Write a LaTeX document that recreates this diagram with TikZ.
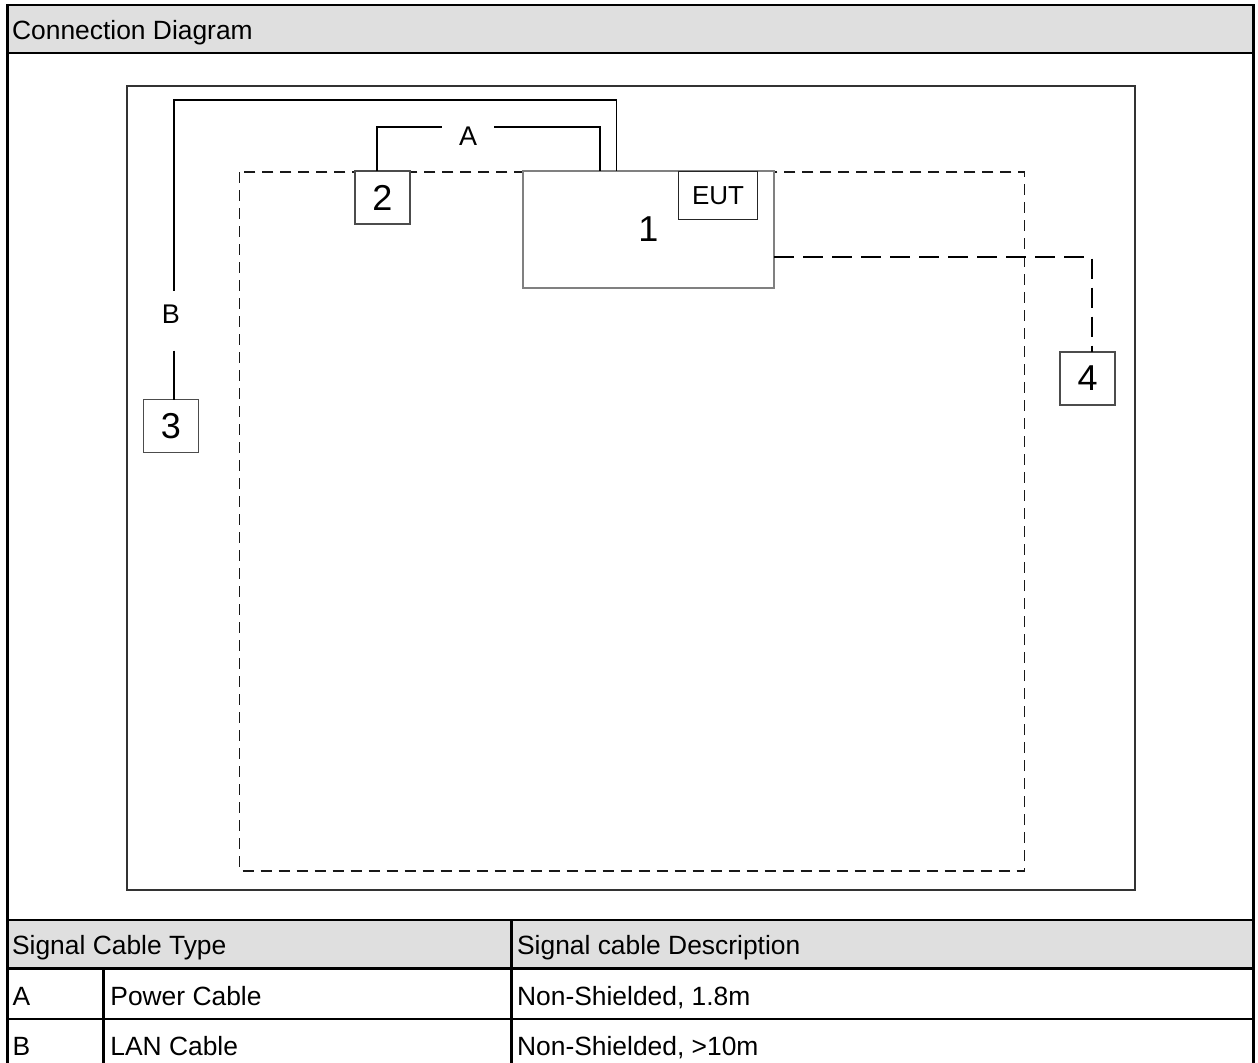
\documentclass[tikz,border=0pt]{standalone}
\usepackage{fontspec}
\setmainfont{Liberation Sans}
\definecolor{hdr}{HTML}{DFDFDF}
\begin{document}
\begin{tikzpicture}[x=0.5pt,y=-0.5pt,
  frameln/.style={line width=1.3pt,draw=black},
  diagln/.style={line width=1pt,draw=black!80},
  cable/.style={line width=0.8pt,draw=black},
  devbox/.style={draw=black!70,line width=0.75pt,fill=white,inner sep=0pt,outer sep=0pt,minimum width=27.5pt,minimum height=26.5pt,font=\fontsize{18}{20}\selectfont},
  eutbox/.style={draw=black!50,line width=1.1pt,fill=white,inner sep=0pt,outer sep=0pt,minimum width=125.7pt,minimum height=58.8pt,font=\fontsize{18}{20}\selectfont},
  tagbox/.style={draw=black!85,line width=0.75pt,fill=white,inner sep=0pt,outer sep=0pt,minimum width=39.7pt,minimum height=23.8pt,font=\fontsize{13}{15}\selectfont},
  lbl/.style={inner sep=0pt,outer sep=0pt,font=\fontsize{13.5}{15}\selectfont},
  txt/.style={inner sep=0pt,anchor=base west,font=\fontsize{13.2}{15}\selectfont},
  dashrect/.style={line width=0.8pt,draw=black!90,dash pattern=on 5.5pt off 3.5pt},
  dcable/.style={line width=0.9pt,draw=black,dash pattern=on 10pt off 4.5pt}]

\useasboundingbox (0,0) rectangle (1258,1063);

% header band and table header band
\fill[hdr] (7.3,5) rectangle (1253.5,53);
\fill[hdr] (7.3,920) rectangle (1253.5,968.3);

% frame and table lines
\draw[frameln] (7.3,1080) -- (7.3,5) -- (1253.5,5) -- (1253.5,1080);
\draw[frameln] (7.3,53) -- (1253.5,53);
\draw[frameln] (7.3,920) -- (1253.5,920);
\draw[frameln] (7.3,968.3) -- (1253.5,968.3);
\draw[frameln] (7.3,1019) -- (1253.5,1019);
\draw[frameln] (103.3,968.3) -- (103.3,1080);
\draw[frameln] (511.7,920) -- (511.7,1080);

% texts
\node[txt] (title) at (11.7,40) {Connection Diagram};
\node[txt] (th1) at (11.7,954) {Signal Cable Type};
\node[txt] (th2) at (516.7,954) {Signal cable Description};
\node[txt] (ra1) at (12.2,1005) {A};
\node[txt] (ra2) at (110,1005) {Power Cable};
\node[txt] (ra3) at (516.7,1005) {Non-Shielded, 1.8m};
\node[txt] (rb1) at (12.2,1055) {B};
\node[txt] (rb2) at (110,1055) {LAN Cable};
\node[txt] (rb3) at (516.7,1055) {Non-Shielded, >10m};

% diagram outer rectangle and dashed table area
\draw[diagln] (126.7,85.7) rectangle (1134.7,889.5);
\draw[dashrect] (239.3,172.3) rectangle (1024.6,871);

% devices
\node[eutbox] (eut) at (648.3,229.5) {1};
\node[tagbox] (tag) at (718,195.5) {EUT};
\node[devbox] (b2) at (382.5,197.7) {2};
\node[devbox] (b3) at (170.8,426.2) {3};
\node[devbox] (b4) at (1087.5,378.3) {4};

% labels
\node[lbl,anchor=north] (Al) at (468,127.3) {A};
\node[lbl] (Bl) at (171,314.3) {B};

% cable A
\draw[cable] ([xshift=-2.9pt]b2.north) |- ([xshift=-13.2pt]Al.north);
\draw[cable] ([xshift=13.2pt]Al.north) -| ([xshift=38.65pt]eut.north west);

% cable B
\coordinate (bcorner) at (174,100);
\draw[cable] ([xshift=47pt]eut.north west) |- (bcorner) -- ([xshift=1.5pt,yshift=11.8pt]Bl.center);
\draw[cable] ([xshift=1.5pt,yshift=-18.2pt]Bl.center) -- ([xshift=1.6pt]b3.north);

% dashed cable to 4
\draw[dcable] ([yshift=-13.9pt]eut.east) -| ([xshift=2.1pt]b4.north);
\end{tikzpicture}
\end{document}
